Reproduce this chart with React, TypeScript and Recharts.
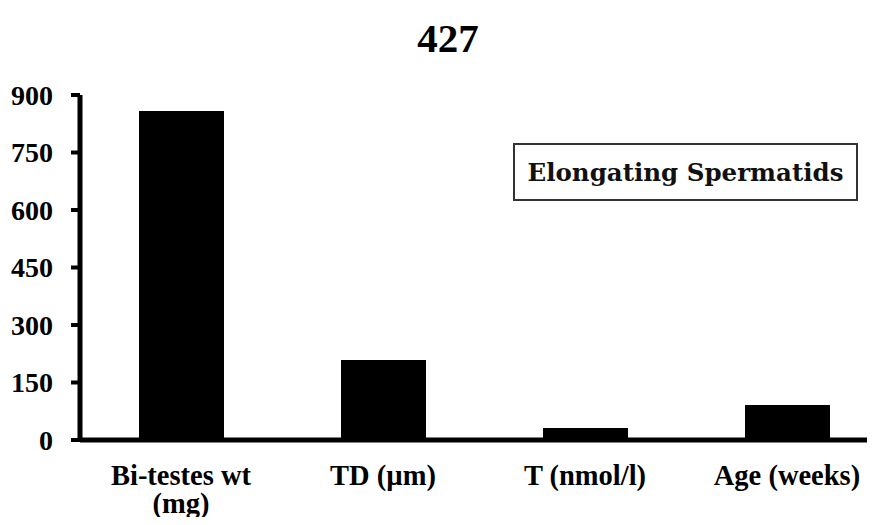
import React from 'react';
import { BarChart, Bar, XAxis, YAxis, Legend } from 'recharts';

// Chart content
const title = '427';
const seriesName = 'Elongating Spermatids';
const categories = ['Bi-testes wt\n(mg)', 'TD (µm)', 'T (nmol/l)', 'Age (weeks)'];
const values = [858, 209, 31, 91];
const yTicks = [0, 150, 300, 450, 600, 750, 900];

const data = categories.map((category, i) => ({ category, value: values[i] }));

const SERIF = "'Liberation Serif', 'Times New Roman', serif";

const CategoryTick = (props: any) => {
  const { x, y, payload } = props;
  const lines = String(payload.value).split('\n');
  return (
    <g>
      {lines.map((line, i) => (
        <text
          key={i}
          x={x}
          y={y + 45 + i * 28}
          textAnchor="middle"
          fontFamily={SERIF}
          fontSize={28.5}
          fontWeight="bold"
          fill="#000"
        >
          {line}
        </text>
      ))}
    </g>
  );
};

const LegendBox = () => (
  <div
    style={{
      boxSizing: 'border-box',
      width: 345,
      height: 58,
      border: '2px solid #333',
      background: '#fff',
      display: 'flex',
      alignItems: 'center',
      justifyContent: 'center',
      fontFamily: "'DejaVu Serif', serif",
      fontWeight: 'bold',
      fontSize: 24.5,
      color: '#111',
      whiteSpace: 'nowrap',
    }}
  >
    {seriesName}
  </div>
);

export default function App() {
  return (
    <div
      style={{
        position: 'relative',
        width: 875,
        height: 525,
        margin: -8,
        overflow: 'hidden',
        background: '#fff',
      }}
    >
      <div
        style={{
          position: 'absolute',
          left: 0,
          top: 18,
          width: 896,
          textAlign: 'center',
          fontFamily: SERIF,
          fontWeight: 'bold',
          fontSize: 41,
          lineHeight: '41px',
          color: '#000',
        }}
      >
        {title}
      </div>
      <BarChart
        width={900}
        height={525}
        data={data}
        margin={{ top: 95, right: 12, bottom: 25, left: 0 }}
      >
        <XAxis
          dataKey="category"
          interval={0}
          height={60}
          axisLine={{ stroke: '#000', strokeWidth: 5 }}
          tickLine={false}
          tickSize={0}
          tickMargin={0}
          tick={<CategoryTick />}
        />
        <YAxis
          width={80}
          domain={[0, 900]}
          ticks={yTicks}
          interval={0}
          axisLine={{ stroke: '#000', strokeWidth: 5 }}
          tickLine={{ stroke: '#000', strokeWidth: 4 }}
          tickSize={9}
          tickMargin={18}
          tick={{ fontFamily: SERIF, fontSize: 28, fontWeight: 'bold', fill: '#000' }}
        />
        <Legend
          layout="horizontal"
          verticalAlign="middle"
          align="center"
          content={() => <LegendBox />}
          wrapperStyle={{ left: 513, top: 143, width: 345, height: 58 }}
        />
        <Bar
          dataKey="value"
          name={seriesName}
          fill="#000"
          barSize={85}
          isAnimationActive={false}
        />
      </BarChart>
    </div>
  );
}
